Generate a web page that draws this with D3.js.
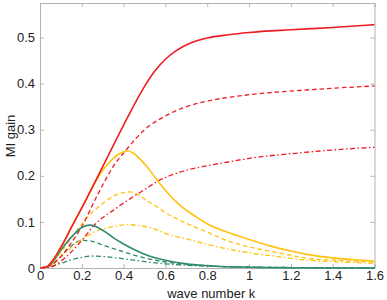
<!DOCTYPE html>
<html>
<head>
<meta charset="utf-8">
<script src="https://cdn.jsdelivr.net/npm/d3@7"></script>
<style>
  body { margin: 0; background: #fff; }
  text { font-family: "Liberation Sans", Arial, sans-serif; }
</style>
</head>
<body>
<svg id="chart" width="387" height="300"></svg>
<script>
// wave numbers, one list per curve
const kRed = [0, 0.03, 0.05, 0.1, 0.15, 0.22, 0.3, 0.4, 0.46, 0.5, 0.55, 0.6, 0.65, 0.72, 0.8, 0.9, 1.0, 1.2, 1.4, 1.6];
const redSolid = [0, 0.002, 0.01, 0.045, 0.088, 0.148, 0.22, 0.31, 0.362, 0.394, 0.428, 0.453, 0.471, 0.488, 0.499, 0.506, 0.511, 0.517, 0.522, 0.528];

const kRedDash = [0, 0.05, 0.1, 0.15, 0.2, 0.27, 0.3, 0.35, 0.41, 0.5, 0.6, 0.7, 0.8, 1.0, 1.2, 1.4, 1.6];
const redDash = [0, 0.005, 0.025, 0.055, 0.09, 0.154, 0.18, 0.22, 0.255, 0.3, 0.33, 0.35, 0.362, 0.376, 0.384, 0.39, 0.395];

const kRedDot = [0, 0.05, 0.1, 0.15, 0.2, 0.27, 0.35, 0.43, 0.5, 0.57, 0.67, 0.8, 0.9, 1.0, 1.2, 1.4, 1.6];
const redDot = [0, 0.002, 0.015, 0.035, 0.06, 0.098, 0.125, 0.15, 0.17, 0.19, 0.208, 0.222, 0.23, 0.238, 0.248, 0.256, 0.262];

const kYel = [0, 0.03, 0.05, 0.1, 0.15, 0.22, 0.3, 0.35, 0.4, 0.42, 0.45, 0.5, 0.55, 0.6, 0.67, 0.75, 0.8, 0.9, 1.0, 1.1, 1.2, 1.3, 1.4, 1.5, 1.6];
const yelSolid = [0, 0.002, 0.01, 0.045, 0.088, 0.148, 0.212, 0.238, 0.252, 0.254, 0.248, 0.226, 0.197, 0.168, 0.136, 0.11, 0.096, 0.077, 0.062, 0.048, 0.037, 0.028, 0.022, 0.018, 0.015];

const kYelDash = [0, 0.05, 0.1, 0.15, 0.215, 0.3, 0.36, 0.43, 0.53, 0.62, 0.72, 0.81, 0.91, 1.0, 1.15, 1.28, 1.45, 1.6];
const yelDash = [0, 0.008, 0.035, 0.065, 0.104, 0.14, 0.158, 0.165, 0.141, 0.115, 0.093, 0.076, 0.057, 0.046, 0.032, 0.021, 0.016, 0.013];

const kYelDot = [0, 0.05, 0.1, 0.15, 0.2, 0.27, 0.35, 0.42, 0.53, 0.62, 0.72, 0.81, 1.0, 1.15, 1.28, 1.45, 1.6];
const yelDot = [0, 0.006, 0.025, 0.045, 0.062, 0.08, 0.09, 0.094, 0.087, 0.072, 0.061, 0.05, 0.033, 0.024, 0.017, 0.013, 0.01];

const kGrn = [0, 0.03, 0.05, 0.1, 0.15, 0.2, 0.24, 0.3, 0.35, 0.4, 0.45, 0.5, 0.6, 0.7, 0.8, 1.0, 1.2, 1.6];
const grnSolid = [0, 0.002, 0.008, 0.039, 0.067, 0.088, 0.093, 0.082, 0.066, 0.052, 0.04, 0.03, 0.017, 0.009, 0.005, 0.0015, 0.0005, 0];

const kGrnDash = [0, 0.05, 0.1, 0.15, 0.2, 0.25, 0.3, 0.4, 0.5, 0.6, 0.8, 1.0, 1.2, 1.6];
const grnDash = [0, 0.006, 0.025, 0.048, 0.06, 0.058, 0.05, 0.035, 0.022, 0.013, 0.005, 0.002, 0.001, 0];

const kGrnDot = [0, 0.05, 0.1, 0.15, 0.2, 0.25, 0.3, 0.4, 0.5, 0.6, 0.8, 1.0, 1.2, 1.6];
const grnDot = [0, 0.003, 0.01, 0.018, 0.023, 0.026, 0.025, 0.02, 0.014, 0.009, 0.004, 0.002, 0.001, 0];

const xTicks = [0, 0.2, 0.4, 0.6, 0.8, 1, 1.2, 1.4, 1.6];
const yTicks = [0, 0.1, 0.2, 0.3, 0.4, 0.5];

const red = "#ee1d23", yellow = "#ffc20e", green = "#2e8b6f";
const solid = null, dashed = "4.5,3", dashDot = "5,2.5,1.5,2.5";

const series = [
  { k: kGrnDot, v: grnDot, color: green, dash: dashDot, w: 1.3 },
  { k: kGrnDash, v: grnDash, color: green, dash: dashed, w: 1.3 },
  { k: kYelDot, v: yelDot, color: yellow, dash: dashDot, w: 1.3 },
  { k: kYelDash, v: yelDash, color: yellow, dash: dashed, w: 1.3 },
  { k: kRedDot, v: redDot, color: red, dash: dashDot, w: 1.3 },
  { k: kRedDash, v: redDash, color: red, dash: dashed, w: 1.3 },
  { k: kGrn, v: grnSolid, color: green, dash: solid, w: 1.6 },
  { k: kYel, v: yelSolid, color: yellow, dash: solid, w: 1.6 },
  { k: kRed, v: redSolid, color: red, dash: solid, w: 1.6 }
];

const margin = { top: 3, right: 12.5, bottom: 32, left: 40 };
const width = 387 - margin.left - margin.right;
const height = 300 - margin.top - margin.bottom;

const svg = d3.select("#chart");
const g = svg.append("g").attr("transform", `translate(${margin.left},${margin.top})`);

const x = d3.scaleLinear().domain([0, 1.6]).range([0, width]);
const y = d3.scaleLinear().domain([0, 0.575]).range([height, 0]);

const axisColor = "#b3b3b3";
const fmt = d => String(+d.toFixed(1));

// bottom / left axes with inward ticks
const xAxis = g.append("g").attr("transform", `translate(0,${height})`)
  .call(d3.axisBottom(x).tickValues(xTicks).tickSize(-4).tickPadding(3).tickFormat(fmt));
const yAxis = g.append("g")
  .call(d3.axisLeft(y).tickValues(yTicks).tickSize(-4).tickPadding(5).tickFormat(fmt));
// top / right mirror ticks
const xTop = g.append("g")
  .call(d3.axisTop(x).tickValues(xTicks).tickSize(-4).tickFormat(""));
const yRight = g.append("g").attr("transform", `translate(${width},0)`)
  .call(d3.axisRight(y).tickValues(yTicks).tickSize(-4).tickFormat(""));

[xAxis, yAxis, xTop, yRight].forEach(a => {
  a.select(".domain").attr("stroke", axisColor);
  a.selectAll(".tick line").attr("stroke", axisColor);
  a.selectAll(".tick text").attr("fill", "#222").attr("font-size", 13)
    .attr("font-family", "Liberation Sans, Arial, sans-serif");
});

const line = d3.line().curve(d3.curveMonotoneX);

g.append("g").selectAll("path")
  .data(series)
  .join("path")
  .attr("fill", "none")
  .attr("stroke", d => d.color)
  .attr("stroke-width", d => d.w)
  .attr("stroke-dasharray", d => d.dash)
  .attr("d", d => line(d.k.map((k, i) => [x(k), y(d.v[i])])));

svg.append("text")
  .attr("x", margin.left + x(1.6) / 2 + 4)
  .attr("y", 298)
  .attr("text-anchor", "middle")
  .attr("font-size", 13)
  .attr("fill", "#222")
  .text("wave number k");

svg.append("text")
  .attr("transform", "translate(15,136) rotate(-90)")
  .attr("text-anchor", "middle")
  .attr("font-size", 13)
  .attr("fill", "#222")
  .text("MI gain");
</script>
</body>
</html>
